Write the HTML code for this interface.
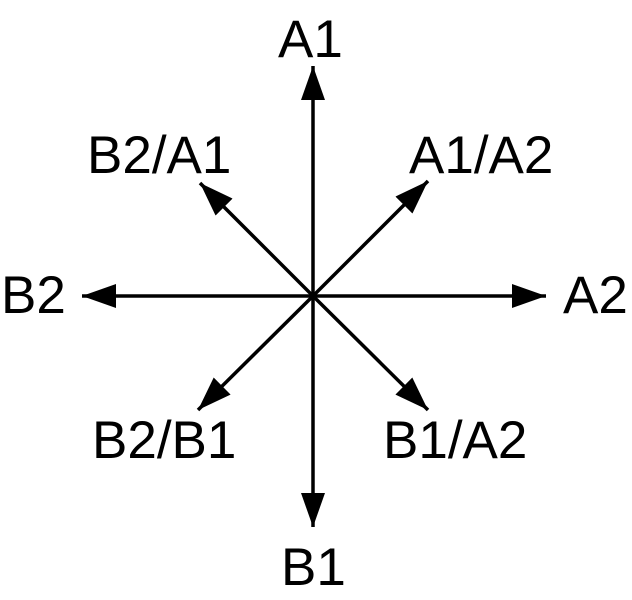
<!DOCTYPE html>
<html><head><style>html,body{margin:0;padding:0;background:#fff;}svg{display:block}</style></head>
<body>
<svg width="632" height="600" viewBox="0 0 632 600" xmlns="http://www.w3.org/2000/svg">
<defs><marker id="a" markerWidth="34" markerHeight="24" refX="34" refY="12" orient="auto" markerUnits="userSpaceOnUse"><path d="M0,0 L34,12 L0,24 Z" fill="#000"/></marker></defs>
<g stroke="#000" stroke-width="3.5" fill="none">
<line x1="313" y1="296" x2="313" y2="66" marker-end="url(#a)"/>
<line x1="313" y1="296" x2="313" y2="527" marker-end="url(#a)"/>
<line x1="313" y1="296" x2="82" y2="296" marker-end="url(#a)"/>
<line x1="313" y1="296" x2="546" y2="296" marker-end="url(#a)"/>
<line x1="313" y1="296" x2="200" y2="183" marker-end="url(#a)"/>
<line x1="313" y1="296" x2="428" y2="181" marker-end="url(#a)"/>
<line x1="313" y1="296" x2="198" y2="410" marker-end="url(#a)"/>
<line x1="313" y1="296" x2="428" y2="410" marker-end="url(#a)"/>
</g>
<g font-family="Liberation Sans, Arial, sans-serif" font-size="53" fill="#000">
<text x="278" y="57">A1</text>
<text x="87" y="173">B2/A1</text>
<text x="409" y="173">A1/A2</text>
<text x="1" y="313">B2</text>
<text x="563" y="313">A2</text>
<text x="92" y="458">B2/B1</text>
<text x="383" y="458">B1/A2</text>
<text x="281" y="585">B1</text>
</g>
</svg>
</body></html>
